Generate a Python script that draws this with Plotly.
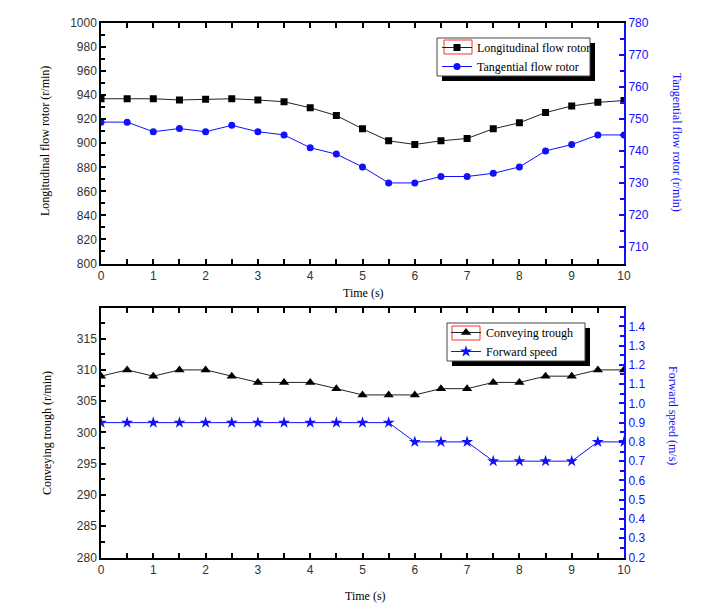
import plotly.graph_objects as go

# chart data
TIME_S = [0, 0.5, 1, 1.5, 2, 2.5, 3, 3.5, 4, 4.5, 5, 5.5, 6, 6.5, 7, 7.5, 8, 8.5, 9, 9.5, 10]
LONGITUDINAL_ROTOR = [937, 937, 937, 936, 936.5, 937, 936, 934.5, 929.5, 923, 912, 902, 899, 902, 904, 912, 917, 925.5, 931, 934, 935.5]
TANGENTIAL_ROTOR = [749, 749, 746, 747, 746, 748, 746, 745, 741, 739, 735, 730, 730, 732, 732, 733, 735, 740, 742, 745, 745]
CONVEYING_TROUGH = [309, 310, 309, 310, 310, 309, 308, 308, 308, 307, 306, 306, 306, 307, 307, 308, 308, 309, 309, 310, 310]
FORWARD_SPEED = [0.9, 0.9, 0.9, 0.9, 0.9, 0.9, 0.9, 0.9, 0.9, 0.9, 0.9, 0.9, 0.8, 0.8, 0.8, 0.7, 0.7, 0.7, 0.7, 0.8, 0.8]

WIDTH = 703
HEIGHT = 611
BLUE = "#1010ff"
SERIF = "Liberation Serif, Times New Roman"
TICK_FONT = dict(family="Liberation Sans, Arial", size=12, color="#333333")


def px_x(value):
    """pixel column -> paper fraction"""
    return value / WIDTH


def px_y(value):
    """pixel row (from top) -> paper fraction"""
    return 1 - value / HEIGHT


def main():
    fig = go.Figure()

    fig.add_trace(go.Scatter(
        x=TIME_S, y=LONGITUDINAL_ROTOR, name="Longitudinal flow rotor",
        mode="lines+markers", line=dict(color="#222222", width=1),
        marker=dict(symbol="square", size=7, color="black"),
        xaxis="x", yaxis="y", legend="legend",
    ))
    fig.add_trace(go.Scatter(
        x=TIME_S, y=TANGENTIAL_ROTOR, name="Tangential flow rotor",
        mode="lines+markers", line=dict(color=BLUE, width=1),
        marker=dict(symbol="circle", size=7, color=BLUE),
        xaxis="x", yaxis="y2", legend="legend",
    ))
    fig.add_trace(go.Scatter(
        x=TIME_S, y=CONVEYING_TROUGH, name="Conveying trough",
        mode="lines+markers", line=dict(color="#222222", width=1),
        marker=dict(symbol="triangle-up", size=9, color="black"),
        xaxis="x2", yaxis="y3", legend="legend2",
    ))
    fig.add_trace(go.Scatter(
        x=TIME_S, y=FORWARD_SPEED, name="Forward speed",
        mode="lines+markers", line=dict(color=BLUE, width=1),
        marker=dict(symbol="star", size=9, color=BLUE),
        xaxis="x2", yaxis="y4", legend="legend2",
    ))

    xdom = [px_x(101), px_x(624)]
    top_dom = [px_y(263.5), px_y(23)]
    bot_dom = [px_y(557.5), px_y(308)]

    xaxis_common = dict(
        domain=xdom, range=[0, 10], dtick=1, tickfont=TICK_FONT, automargin=False,
        ticks="inside", ticklen=5, tickwidth=1.5, tickcolor="black",
        minor=dict(dtick=0.5, ticks="inside", ticklen=5, tickcolor="black"),
        showline=True, linecolor="black", linewidth=1.5, mirror="ticks",
        showgrid=False, zeroline=False,
    )
    left_common = dict(
        ticks="inside", ticklen=5, tickwidth=1.5, tickcolor="black", tickfont=TICK_FONT,
        showline=True, linecolor="black", linewidth=1.5, automargin=False,
        showgrid=False, zeroline=False,
    )
    right_common = dict(
        side="right", ticks="inside", ticklen=5, tickwidth=1.5, tickcolor=BLUE,
        tickfont=dict(family="Liberation Sans, Arial", size=12, color=BLUE),
        showline=True, linecolor=BLUE, linewidth=2, automargin=False,
        showgrid=False, zeroline=False,
    )
    legend_common = dict(
        xanchor="left", yanchor="top", bgcolor="rgba(0,0,0,0)", borderwidth=0,
        itemwidth=30, tracegroupgap=0,
        font=dict(family=SERIF, size=12, color="black"),
    )

    fig.update_layout(
        width=WIDTH, height=HEIGHT,
        margin=dict(l=0, r=0, t=0, b=0, autoexpand=False),
        paper_bgcolor="white", plot_bgcolor="white",
        xaxis=dict(anchor="y", **xaxis_common),
        xaxis2=dict(anchor="y3", **xaxis_common),
        yaxis=dict(domain=top_dom, anchor="x", range=[800, 1000], dtick=20,
                   minor=dict(dtick=10, ticks="inside", ticklen=4, tickcolor="black"),
                   **left_common),
        yaxis2=dict(domain=top_dom, anchor="x", overlaying="y", range=[704.8, 780],
                    tick0=710, dtick=10,
                    minor=dict(dtick=5, ticks="inside", ticklen=4, tickcolor=BLUE),
                    **right_common),
        yaxis3=dict(domain=bot_dom, anchor="x2", range=[280, 319.9], dtick=5,
                    minor=dict(dtick=2.5, ticks="inside", ticklen=4, tickcolor="black"),
                    **left_common),
        yaxis4=dict(domain=bot_dom, anchor="x2", overlaying="y3", range=[0.2, 1.495],
                    tick0=0.2, dtick=0.1, tickformat=".1f",
                    minor=dict(dtick=0.05, ticks="inside", ticklen=4, tickcolor=BLUE),
                    **right_common),
        legend=dict(x=px_x(437), y=px_y(33), **legend_common),
        legend2=dict(x=px_x(446), y=px_y(318), **legend_common),
    )

    # legend frames with drop shadow, drawn as shapes so the box size is fixed
    for left, top, right, bottom in [(437, 38, 590, 76), (447, 323, 585, 361)]:
        fig.add_shape(type="rect", xref="paper", yref="paper",
                      x0=px_x(left + 5), x1=px_x(right + 5), y0=px_y(bottom + 5), y1=px_y(top + 5),
                      fillcolor="black", line=dict(width=0), layer="below")
        fig.add_shape(type="rect", xref="paper", yref="paper",
                      x0=px_x(left), x1=px_x(right), y0=px_y(bottom), y1=px_y(top),
                      fillcolor="white", line=dict(color="#444444", width=1), layer="below")

    # red selection frames around the first legend symbol, as in the source image
    for left, top, right, bottom in [(444, 40, 472, 54), (452, 326, 480, 340)]:
        fig.add_shape(type="rect", xref="paper", yref="paper",
                      x0=px_x(left), x1=px_x(right), y0=px_y(bottom), y1=px_y(top),
                      line=dict(color="#ff3030", width=1), layer="below")

    # axis titles
    titles = [
        ("Longitudinal flow rotor (r/min)", 45, 141, -90, "black"),
        ("Tangential flow rotor (r/min)", 677, 142, 90, BLUE),
        ("Time (s)", 363, 293, 0, "black"),
        ("Conveying trough (r/min)", 47, 433, -90, "black"),
        ("Forward speed (m/s)", 673, 415, 90, BLUE),
        ("Time (s)", 366, 596, 0, "black"),
    ]
    for text, cx, cy, angle, color in titles:
        fig.add_annotation(text=text, xref="paper", yref="paper", x=px_x(cx), y=px_y(cy),
                           xanchor="center", yanchor="middle", textangle=angle, showarrow=False,
                           font=dict(family=SERIF, size=12, color=color))

    # the page body has a default 8px margin, drop it so the figure sits at 0,0
    fig.write_html("out.html", config={"displayModeBar": False},
                   post_script="document.body.style.margin = '0';")


if __name__ == "__main__":
    main()
